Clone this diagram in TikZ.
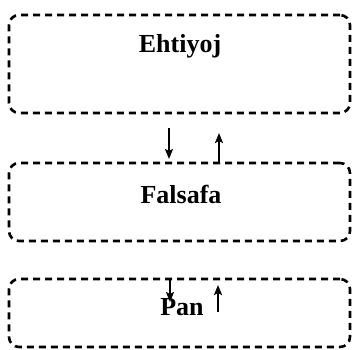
\documentclass[tikz,border=0pt]{standalone}
\usepackage{fontspec}
\setmainfont{Liberation Serif}
\usetikzlibrary{arrows.meta}
\begin{document}
\begin{tikzpicture}[x=1pt,y=-1pt,
  box/.style={draw, line width=2.6pt, dash pattern=on 7pt off 5pt, rounded corners=10pt, inner sep=0pt},
  lbl/.style={font=\fontsize{26}{30}\selectfont\bfseries, inner sep=0pt, anchor=base},
  arr/.style={line width=2.3pt, -{Stealth[length=10pt,width=8pt,inset=2pt]}}]
\useasboundingbox (0,0) rectangle (352,349);
\node[box, minimum width=341pt, minimum height=98pt] (b1) at (179.5,64) {};
\node[box, minimum width=341pt, minimum height=78pt] (b2) at (179.5,202) {};
\node[box, minimum width=341pt, minimum height=68pt] (b3) at (179.5,313) {};
\node[lbl] (t1) at (180,52) {Ehtiyoj};
\node[lbl] (t2) at (181,203) {Falsafa};
\node[lbl] (t3) at (182,315) {Pan};
\coordinate (d1s) at (169,128);
\coordinate (d1e) at (169,159);
\coordinate (u1s) at (219,163);
\coordinate (u1e) at (219,133);
\coordinate (d2s) at (170,279);
\coordinate (d2e) at (170,302);
\coordinate (u2s) at (218,312);
\coordinate (u2e) at (218,285);
\draw[arr] (d1s) -- (d1e);
\draw[arr] (u1s) -- (u1e);
\draw[arr] (d2s) -- (d2e);
\draw[arr] (u2s) -- (u2e);
\end{tikzpicture}
\end{document}
